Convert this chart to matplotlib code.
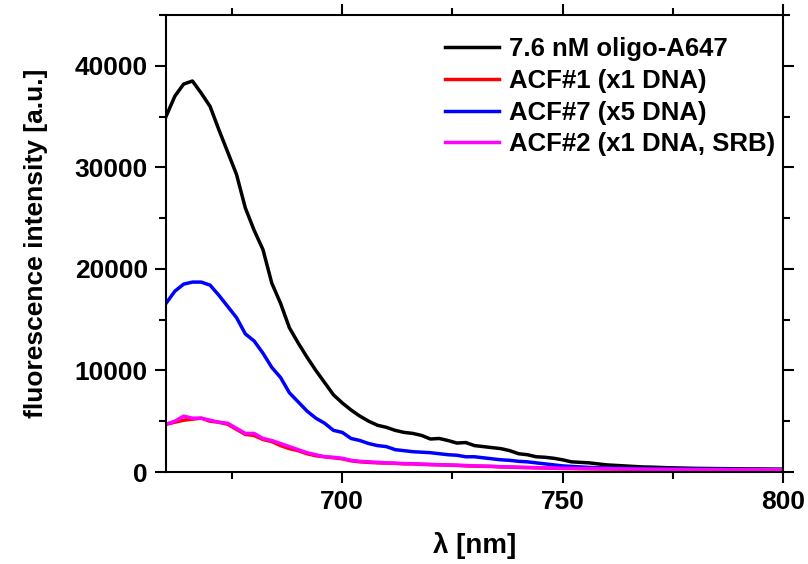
import numpy as np
import matplotlib.pyplot as plt
from matplotlib.ticker import MultipleLocator

plt.rcParams['font.family'] = ['Liberation Sans', 'DejaVu Sans']
plt.rcParams['font.weight'] = 'bold'

wavelength = np.arange(660, 802, 2)

oligo_a647 = [35000, 37000, 38200, 38500, 37300, 36000, 33700, 31500, 29300, 26000,
              23800, 21900, 18600, 16600, 14200, 12700, 11300, 10000, 8800, 7600,
              6800, 6100, 5500, 5000, 4600, 4400, 4100, 3900, 3800, 3600,
              3250, 3300, 3100, 2850, 2900, 2600, 2500, 2400, 2300, 2100,
              1800, 1700, 1500, 1450, 1350, 1200, 1000, 950, 900, 800,
              700, 650, 600, 550, 500, 480, 450, 420, 400, 380,
              360, 350, 340, 330, 320, 310, 300, 300, 290, 280, 280]

acf7 = [16600, 17800, 18500, 18700, 18700, 18400, 17400, 16300, 15200, 13600,
        12900, 11700, 10300, 9300, 7800, 6900, 6000, 5300, 4800, 4100,
        3900, 3300, 3100, 2800, 2600, 2500, 2200, 2100, 2000, 1950,
        1900, 1800, 1700, 1650, 1500, 1500, 1400, 1300, 1200, 1150,
        1050, 1000, 900, 800, 700, 600, 550, 500, 450, 420,
        400, 380, 360, 340, 330, 320, 310, 300, 290, 285,
        280, 275, 270, 265, 260, 255, 250, 250, 250, 245, 240]

acf1 = [4700, 4900, 5100, 5200, 5300, 5000, 4900, 4700, 4200, 3700,
        3600, 3200, 3000, 2600, 2300, 2100, 1800, 1600, 1500, 1400,
        1300, 1100, 1000, 950, 900, 880, 850, 800, 800, 750,
        720, 700, 680, 650, 600, 580, 560, 540, 500, 480,
        450, 430, 410, 390, 370, 350, 340, 330, 320, 310,
        300, 290, 280, 270, 260, 250, 245, 240, 235, 230,
        225, 220, 220, 215, 210, 210, 205, 205, 200, 200, 200]

acf2 = [4700, 5000, 5500, 5300, 5300, 5100, 4900, 4800, 4300, 3800,
        3800, 3300, 3100, 2800, 2500, 2200, 1900, 1700, 1500, 1450,
        1350, 1150, 1050, 1000, 950, 900, 870, 830, 820, 780,
        750, 720, 700, 670, 640, 600, 580, 560, 520, 500,
        470, 450, 430, 410, 390, 370, 360, 350, 340, 330,
        320, 310, 300, 290, 280, 270, 265, 260, 255, 250,
        245, 240, 240, 235, 230, 230, 225, 225, 220, 220, 220]

series = [
    ('7.6 nM oligo-A647', oligo_a647, 'black'),
    ('ACF#1 (x1 DNA)', acf1, 'red'),
    ('ACF#7 (x5 DNA)', acf7, 'blue'),
    ('ACF#2 (x1 DNA, SRB)', acf2, 'magenta'),
]

fig = plt.figure(figsize=(8.08, 5.64), dpi=100)
ax = fig.add_axes([166/808, 1-472/564, (783-166)/808, (472-15)/564])

for label, vals, col in series:
    ax.plot(wavelength, vals, color=col, lw=2.5, label=label)

ax.set_xlim(660, 800)
ax.set_ylim(0, 45000)
ax.xaxis.set_major_locator(MultipleLocator(50))
ax.xaxis.set_minor_locator(MultipleLocator(25))
ax.yaxis.set_major_locator(MultipleLocator(10000))
ax.yaxis.set_minor_locator(MultipleLocator(5000))
ax.set_xticks([700, 750, 800])

for s in ax.spines.values():
    s.set_linewidth(1.5)
ax.tick_params(which='both', direction='out', top=True, right=True, width=1.5,
               labelsize=19, pad=5)
ax.tick_params(which='major', length=8)
ax.tick_params(which='minor', length=5)
for t in ax.get_xticklabels() + ax.get_yticklabels():
    t.set_fontweight('bold')

ax.set_xlabel('λ [nm]', fontsize=20, fontweight='bold', labelpad=13)
ax.set_ylabel('fluorescence intensity [a.u.]', fontsize=19, fontweight='bold', labelpad=19)

leg = ax.legend(loc='upper right', bbox_to_anchor=(1.012, 0.985), frameon=False,
                prop={'size': 18.5, 'weight': 'bold'}, handlelength=2.1,
                labelspacing=0.3, handletextpad=0.4, borderaxespad=0.2)

fig.savefig('out.png', dpi=100)
